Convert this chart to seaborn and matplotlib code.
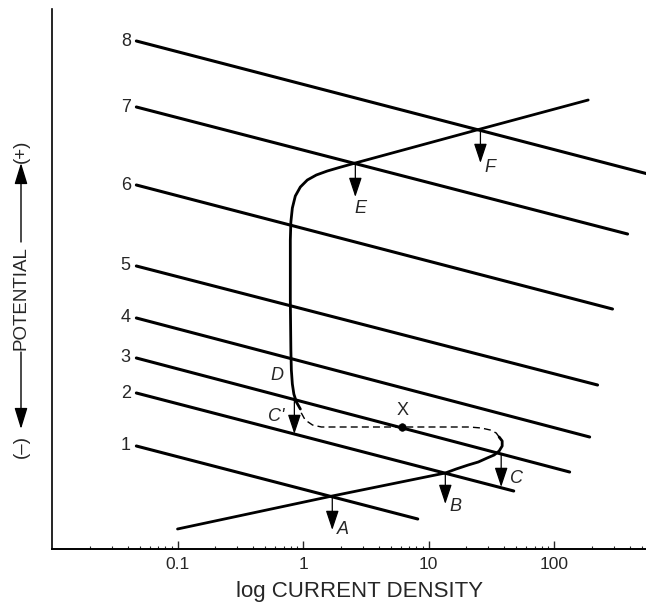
import numpy as np
import pandas as pd
import matplotlib
matplotlib.use("Agg")
import matplotlib.pyplot as plt
import seaborn as sns
from matplotlib.ticker import FixedLocator, FixedFormatter, LogLocator, NullFormatter

# ---------------- data ----------------
# Cathodic (reduction) lines 1..8: start/end current and potential
line_labels = ["1", "2", "3", "4", "5", "6", "7", "8"]
line_i_start = [0.047, 0.047, 0.047, 0.047, 0.047, 0.047, 0.047, 0.047]
line_e_start = [103, 156, 191, 231, 283, 364, 442, 508]
line_i_end = [8.2, 47.7, 133, 192, 222, 292, 385, 560]
line_e_end = [30, 58, 77, 112, 164, 240, 315, 375]

# Anodic polarization curve - solid lower branch (active region up to nose)
lower_i = [0.1, 1.71, 13.6, 16.6, 20.7, 24.9, 29.3, 33.3, 36.5, 38.6, 38.6, 36.5]
lower_e = [20, 53, 76, 80, 84, 87, 91, 94, 98, 103, 108, 112]

# Anodic curve - dashed (unstable) section
dash_i = [36.5, 34.6, 31.0, 26.3, 21.1, 6.17, 1.40, 1.19, 1.04, 0.969, 0.952]
dash_e = [112, 116, 119, 121, 122, 122, 122, 124, 129, 136, 140]

# Anodic curve - solid upper branch (passive region and transpassive)
upper_i = [0.952, 0.885, 0.845, 0.822, 0.807, 0.80, 0.792, 0.792, 0.80, 0.822,
           0.868, 0.952, 1.082, 1.276, 1.561, 1.945, 2.61, 25.9, 187]
upper_e = [140, 147, 155, 165, 179, 199, 249, 309, 327, 341,
           353, 362, 369, 374, 378, 381.5, 386, 420, 449]

# Marked intersections with downward arrows
point_labels = ["A", "B", "C", "C'", "E", "F"]
point_i = [1.71, 13.6, 37.9, 0.853, 2.61, 25.9]
point_e_top = [53, 76, 94, 151, 386, 420]
point_e_tip = [19, 45, 62, 115, 352, 386]

# Point X on the dashed section
x_point_i = [6.17]
x_point_e = [122]

xtick_values = [0.1, 1, 10, 100]
xtick_labels = ["0.1", "1", "10", "100"]

# ---------------- drawing ----------------
sns.set_style("white")
plt.rcParams["font.family"] = ["Liberation Sans", "DejaVu Sans"]

W, H = 646, 610
fig = plt.figure(figsize=(W / 100, H / 100), dpi=100)
ax = fig.add_axes([52 / W, 61 / H, 594 / W, 540 / H])
ax.set_xscale("log")

rows = []
for lab, i0, e0, i1, e1 in zip(line_labels, line_i_start, line_e_start, line_i_end, line_e_end):
    rows.append({"line": lab, "current": i0, "potential": e0})
    rows.append({"line": lab, "current": i1, "potential": e1})
df_lines = pd.DataFrame(rows)
sns.lineplot(data=df_lines, x="current", y="potential", units="line", estimator=None,
             sort=False, color="black", lw=2.2, ax=ax, legend=False)

df_lower = pd.DataFrame({"current": lower_i, "potential": lower_e})
df_dash = pd.DataFrame({"current": dash_i, "potential": dash_e})
df_upper = pd.DataFrame({"current": upper_i, "potential": upper_e})
sns.lineplot(data=df_lower, x="current", y="potential", sort=False, estimator=None,
             color="black", lw=2.0, ax=ax)
sns.lineplot(data=df_dash, x="current", y="potential", sort=False, estimator=None,
             color="black", lw=1.0, ax=ax, linestyle=(0, (5, 3)))
sns.lineplot(data=df_upper, x="current", y="potential", sort=False, estimator=None,
             color="black", lw=2.0, ax=ax)

sns.scatterplot(x=x_point_i, y=x_point_e, color="black", s=30, ax=ax, zorder=5,
                edgecolor="black")

# line numbers
for lab, i0, e0 in zip(line_labels, line_i_start, line_e_start):
    ax.annotate(lab, xy=(i0, e0), xytext=(-4, 0), textcoords="offset points",
                ha="right", va="center", fontsize=13)

# arrows with letters
label_style = {
    "A": dict(off=(3, 0), ha="left", ref="tip"),
    "B": dict(off=(3, -2), ha="left", ref="tip"),
    "C": dict(off=(6, 6), ha="left", ref="tip"),
    "C'": dict(off=(-7, -13), ha="right", ref="top"),
    "E": dict(off=(-1, -8), ha="left", ref="tip"),
    "F": dict(off=(3, -3), ha="left", ref="tip"),
}
for lab, xi, et, eb in zip(point_labels, point_i, point_e_top, point_e_tip):
    ax.annotate("", xy=(xi, eb), xytext=(xi, et),
                arrowprops=dict(arrowstyle="-|>,head_length=0.6,head_width=0.2",
                                mutation_scale=20, lw=0.9, color="black",
                                shrinkA=0, shrinkB=0))
    st = label_style[lab]
    ref = (xi, eb) if st["ref"] == "tip" else (xi, et)
    ax.annotate(lab, xy=ref, xytext=st["off"], textcoords="offset points",
                ha=st["ha"], va="center", fontsize=13, fontstyle="italic")

# label D above C'
ci = point_labels.index("C'")
ax.annotate("D", xy=(point_i[ci], point_e_top[ci]), xytext=(-8, 16),
            textcoords="offset points", ha="right", va="center",
            fontsize=13, fontstyle="italic")
# label X
ax.annotate("X", xy=(x_point_i[0], x_point_e[0]), xytext=(0, 12),
            textcoords="offset points", ha="center", va="center", fontsize=13)

# axes
ax.set_xlim(0.01, 540)
ax.set_ylim(0, 540)
ax.set_yticks([])
ax.xaxis.set_major_locator(FixedLocator(xtick_values))
ax.xaxis.set_major_formatter(FixedFormatter(xtick_labels))
ax.xaxis.set_minor_locator(LogLocator(base=10, subs=np.arange(2, 10)))
ax.xaxis.set_minor_formatter(NullFormatter())
ax.tick_params(axis="x", which="major", direction="in", length=6, width=1.0,
               labelsize=12.5, pad=6, bottom=True)
ax.tick_params(axis="x", which="minor", direction="in", length=2, width=0.8, bottom=True)
for s in ["top", "right"]:
    ax.spines[s].set_visible(False)
ax.spines["left"].set_linewidth(1.2)
ax.spines["bottom"].set_linewidth(1.4)
ax.spines["left"].set_color("black")
ax.spines["bottom"].set_color("black")

ax.set_xlabel("log CURRENT DENSITY", fontsize=16, va="center")
ax.xaxis.set_label_coords((360 - 52) / 594, (549 - 591) / 540)

# y label: "(–) <--- POTENTIAL ---> (+)"
lx = 21
ax.set_ylabel("POTENTIAL", fontsize=13.5, va="center")
ax.yaxis.set_label_coords((lx - 52) / 594, (549 - 298) / 540)
fig.text(lx / W, 1 - 151 / H, "(+)", rotation=90, ha="center", va="center", fontsize=13.5)
fig.text(lx / W, 1 - 447 / H, "(–)", rotation=90, ha="center", va="center", fontsize=13.5)
for y0, y1 in [(242, 163), (352, 429)]:
    fig.patches.append(matplotlib.patches.FancyArrowPatch(
        (lx / W, 1 - y0 / H), (lx / W, 1 - y1 / H), transform=fig.transFigure,
        arrowstyle="-|>,head_length=0.65,head_width=0.2", mutation_scale=20,
        lw=1.0, color="black", shrinkA=0, shrinkB=0))

fig.savefig("out.png", dpi=100)
